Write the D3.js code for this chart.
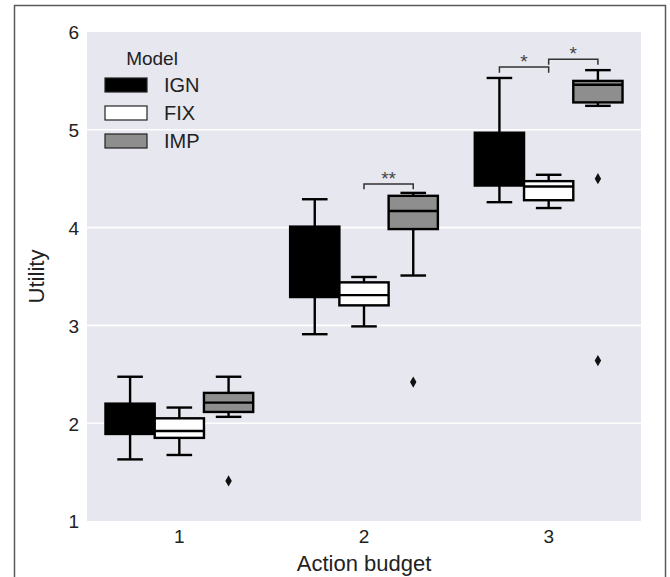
<!DOCTYPE html>
<html>
<head>
<meta charset="utf-8">
<script src="https://cdn.jsdelivr.net/npm/d3@7/dist/d3.min.js"></script>
<style>
  html, body { margin: 0; padding: 0; background: #ffffff; }
  svg { display: block; }
  text { font-family: "Liberation Sans", Arial, Helvetica, sans-serif; }
</style>
</head>
<body>
<svg id="chart" width="670" height="577"></svg>
<script>
// ---------- data ----------
const budgets = ["1", "2", "3"];
const models = ["IGN", "FIX", "IMP"];
const modelFill = ["#000000", "#ffffff", "#8e8e8e"];
const yTicks = [1, 2, 3, 4, 5, 6];
// each entry: [whiskerLow, q1, median, q3, whiskerHigh] per budget
const ignStats = [
  [1.63, 1.89, 2.05, 2.20, 2.475],
  [2.91, 3.29, 3.65, 4.01, 4.29],
  [4.26, 4.43, 4.70, 4.97, 5.53]
];
const fixStats = [
  [1.675, 1.85, 1.92, 2.05, 2.16],
  [2.99, 3.205, 3.31, 3.44, 3.495],
  [4.20, 4.28, 4.42, 4.475, 4.54]
];
const impStats = [
  [2.065, 2.115, 2.21, 2.31, 2.475],
  [3.51, 3.985, 4.17, 4.325, 4.355],
  [5.245, 5.28, 5.46, 5.50, 5.61]
];
// outliers: [budget, model, value]
const outliers = [
  ["1", "IMP", 1.41],
  ["2", "IMP", 2.42],
  ["3", "IMP", 4.50],
  ["3", "IMP", 2.64]
];
// significance brackets: [budget, fromModel, toModel, barValue, legValue, label]
const brackets = [
  ["2", "FIX", "IMP", 4.446, 4.392, "**"],
  ["3", "IGN", "FIX", 5.642, 5.584, "*"],
  ["3", "FIX", "IMP", 5.721, 5.666, "*"]
];

// ---------- layout ----------
const svg = d3.select("#chart");
const plot = { left: 87, right: 641, top: 32, bottom: 521 };

const x = d3.scaleBand().domain(budgets).range([plot.left, plot.right]);
const xm = d3.scaleBand().domain(models).range([0, x.bandwidth()]).paddingInner(0).paddingOuter(0.375);
const y = d3.scaleLinear().domain([1, 6]).range([plot.bottom, plot.top]);

// outer frame
const frame = svg.append("g").attr("fill", "none").attr("stroke", "#5a5a5a").attr("stroke-width", 1.5);
frame.append("path").attr("d", "M14.5,577 L14.5,5.5 L665.5,5.5 L665.5,577");

// background
svg.append("rect")
  .attr("x", plot.left).attr("y", plot.top)
  .attr("width", plot.right - plot.left).attr("height", plot.bottom - plot.top)
  .attr("fill", "#e7e7ef");

// gridlines
svg.append("g").selectAll("line")
  .data(yTicks.filter(t => t > 1 && t < 6))
  .join("line")
  .attr("x1", plot.left).attr("x2", plot.right)
  .attr("y1", d => y(d)).attr("y2", d => y(d))
  .attr("stroke", "#ffffff").attr("stroke-width", 1.6);

// axes
const yAxis = svg.append("g")
  .attr("transform", `translate(${plot.left},0)`)
  .call(d3.axisLeft(y).tickValues(yTicks).tickFormat(d3.format("d")).tickSize(0).tickPadding(8));
yAxis.select(".domain").remove();
yAxis.selectAll("text").attr("font-size", 19).attr("fill", "#222").attr("dy", "0.36em")
  .style("font-family", "'Liberation Sans', Arial, sans-serif");

const xAxis = svg.append("g")
  .attr("transform", `translate(0,${plot.bottom})`)
  .call(d3.axisBottom(x).tickSize(0).tickPadding(9));
xAxis.select(".domain").remove();
xAxis.selectAll("text").attr("font-size", 19).attr("fill", "#222")
  .style("font-family", "'Liberation Sans', Arial, sans-serif");

svg.append("text")
  .attr("x", (plot.left + plot.right) / 2).attr("y", 571)
  .attr("text-anchor", "middle").attr("font-size", 22).attr("fill", "#222")
  .text("Action budget");

svg.append("text")
  .attr("transform", `translate(44,${(plot.top + plot.bottom) / 2}) rotate(-90)`)
  .attr("text-anchor", "middle").attr("font-size", 22).attr("fill", "#222")
  .text("Utility");

// boxes
const statsByModel = { IGN: ignStats, FIX: fixStats, IMP: impStats };
const boxData = [];
models.forEach((m, mi) => {
  budgets.forEach((b, bi) => {
    const s = statsByModel[m][bi];
    boxData.push({ budget: b, model: m, fill: modelFill[mi], lo: s[0], q1: s[1], med: s[2], q3: s[3], hi: s[4] });
  });
});

const boxes = svg.append("g").selectAll("g")
  .data(boxData)
  .join("g")
  .attr("transform", d => `translate(${x(d.budget) + xm(d.model)},0)`);

const bw = xm.bandwidth();
const sw = 2.4;
const ink = "#000";
boxes.each(function (d) {
  const g = d3.select(this);
  const cx = bw / 2;
  const cap = bw * 0.26;
  // whiskers
  g.append("line").attr("x1", cx).attr("x2", cx).attr("y1", y(d.q3)).attr("y2", y(d.hi))
    .attr("stroke", ink).attr("stroke-width", sw);
  g.append("line").attr("x1", cx).attr("x2", cx).attr("y1", y(d.q1)).attr("y2", y(d.lo))
    .attr("stroke", ink).attr("stroke-width", sw);
  g.append("line").attr("x1", cx - cap).attr("x2", cx + cap).attr("y1", y(d.hi)).attr("y2", y(d.hi))
    .attr("stroke", ink).attr("stroke-width", sw);
  g.append("line").attr("x1", cx - cap).attr("x2", cx + cap).attr("y1", y(d.lo)).attr("y2", y(d.lo))
    .attr("stroke", ink).attr("stroke-width", sw);
  // box
  g.append("rect")
    .attr("x", 0).attr("width", bw)
    .attr("y", y(d.q3)).attr("height", y(d.q1) - y(d.q3))
    .attr("fill", d.fill).attr("stroke", ink).attr("stroke-width", sw);
  // median
  g.append("line").attr("x1", 0).attr("x2", bw).attr("y1", y(d.med)).attr("y2", y(d.med))
    .attr("stroke", ink).attr("stroke-width", sw);
});

// outliers
svg.append("g").selectAll("path")
  .data(outliers)
  .join("path")
  .attr("d", d3.symbol().type(d3.symbolDiamond).size(36))
  .attr("transform", d => `translate(${x(d[0]) + xm(d[1]) + bw / 2},${y(d[2])})`)
  .attr("fill", "#111");

// significance brackets
const br = svg.append("g");
brackets.forEach(b => {
  const x1 = x(b[0]) + xm(b[1]) + bw / 2;
  const x2 = x(b[0]) + xm(b[2]) + bw / 2;
  br.append("path")
    .attr("d", d3.line()([[x1, y(b[4])], [x1, y(b[3])], [x2, y(b[3])], [x2, y(b[4])]]))
    .attr("fill", "none").attr("stroke", "#333").attr("stroke-width", 1.5);
  br.append("text")
    .attr("x", (x1 + x2) / 2).attr("y", y(b[3]) + 1)
    .attr("text-anchor", "middle").attr("font-size", 19).attr("fill", "#444")
    .text(b[5]);
});

// legend
const legend = svg.append("g");
legend.append("text")
  .attr("x", 152).attr("y", 58).attr("dy", "0.36em")
  .attr("text-anchor", "middle").attr("font-size", 19).attr("fill", "#222")
  .text("Model");
const ly = d3.scalePoint().domain(models).range([85, 141]);
const li = legend.selectAll("g.item").data(models).join("g").attr("class", "item")
  .attr("transform", m => `translate(0,${ly(m)})`);
li.append("rect")
  .attr("x", 105).attr("y", -7).attr("width", 42).attr("height", 14)
  .attr("fill", (m, i) => modelFill[i]).attr("stroke", "#222").attr("stroke-width", 1.2);
li.append("text")
  .attr("x", 164).attr("dy", "0.36em")
  .attr("font-size", 20).attr("fill", "#222")
  .text(m => m);
</script>
</body>
</html>
